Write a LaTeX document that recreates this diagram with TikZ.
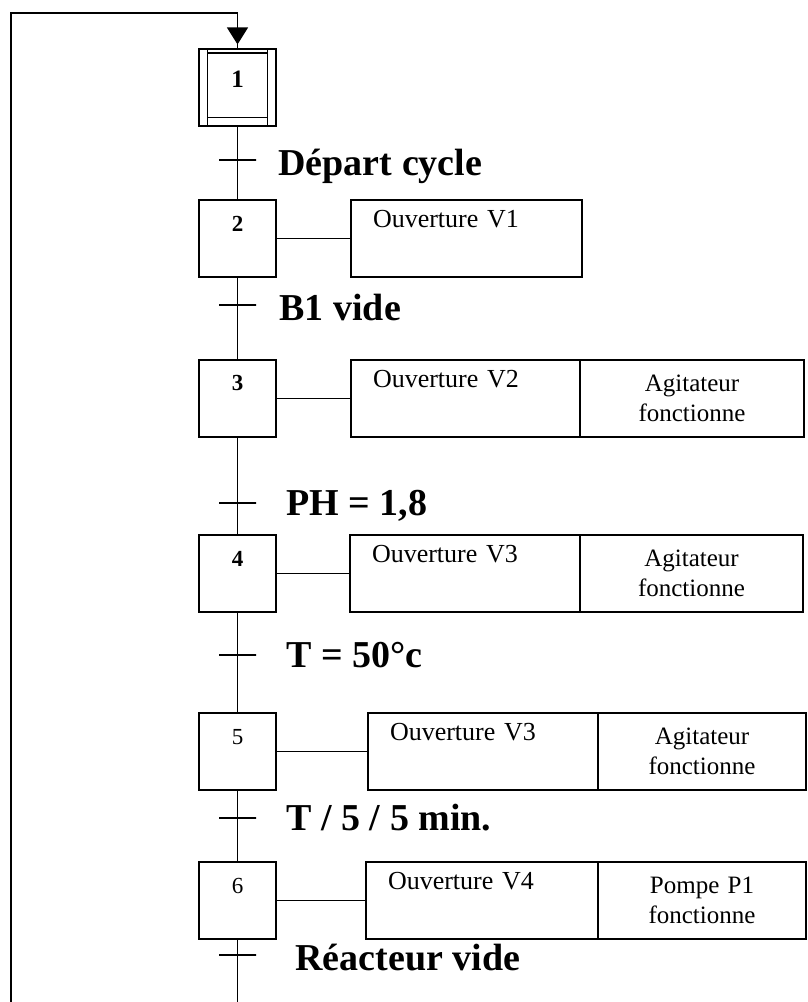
\documentclass[tikz,border=0pt]{standalone}
\usepackage{fontspec}
\setmainfont{Liberation Serif}
\usetikzlibrary{arrows.meta}
\begin{document}
\begin{tikzpicture}[x=1pt,y=-1pt,line width=1.1pt,
  stepbox/.style={draw, minimum width=77pt, minimum height=77pt, inner sep=0pt},
  num/.style={inner sep=0pt, font=\bfseries\fontsize{23}{23}\selectfont},
  numr/.style={inner sep=0pt, font=\fontsize{23}{23}\selectfont},
  actl/.style={draw, minimum width=#1, minimum height=77pt, inner xsep=22pt, inner ysep=0pt,
     text width=#1-44pt, align=left, font=\fontsize{26}{30}\selectfont},
  actr/.style={draw, minimum width=#1, minimum height=77pt, inner xsep=4pt, inner ysep=0pt,
     text width=#1-8pt, align=center, font=\fontsize{25}{30}\selectfont},
  tick/.style={draw, line width=1.2pt, minimum width=37pt, minimum height=0pt, inner sep=0pt},
  trlab/.style={inner sep=0pt, anchor=base west, font=\bfseries\fontsize{38}{38}\selectfont}]
\useasboundingbox (0,0) rectangle (807,1002);

% initial step
\node[stepbox] (s1) at (237.5,87.5) {};
\draw ([xshift=9pt]s1.north west) -- ([xshift=9pt]s1.south west);
\draw ([xshift=-9pt]s1.north east) -- ([xshift=-9pt]s1.south east);
\draw[line width=2pt] ([xshift=9pt,yshift=-5pt]s1.north west) -- ([xshift=-9pt,yshift=-5pt]s1.north east);
\draw ([xshift=9pt,yshift=9pt]s1.south west) -- ([xshift=-9pt,yshift=9pt]s1.south east);
\node[num, font=\bfseries\fontsize{25}{25}\selectfont] (n1) at (237.5,79) {1};

% steps
\node[stepbox] (s2) at (237.5,238.5) {};
\node[num] (n2) at (237.5,224) {2};
\node[stepbox] (s3) at (237.5,398.5) {};
\node[num] (n3) at (237.5,383) {3};
\node[stepbox] (s4) at (237.5,573.5) {};
\node[num] (n4) at (237.5,559) {4};
\node[stepbox] (s5) at (237.5,751.5) {};
\node[numr] (n5) at (237.5,737) {5};
\node[stepbox] (s6) at (237.5,900.5) {};
\node[numr] (n6) at (237.5,886) {6};

% transitions
\node[tick] (t1) at (237.5,160) {};
\node[tick] (t2) at (237.5,305) {};
\node[tick] (t3) at (237.5,503) {};
\node[tick] (t4) at (237.5,655) {};
\node[tick] (t5) at (237.5,818) {};
\node[tick] (t6) at (237.5,955) {};

\node[trlab] (l1) at (278,175) {Départ cycle};
\node[trlab] (l2) at (279,320) {B1 vide};
\node[trlab] (l3) at (286,515) {PH = 1,8};
\node[trlab] (l4) at (286,667) {T = 50°c};
\node[trlab] (l5) at (286,830) {T / 5 / 5 min.};
\node[trlab] (l6) at (295,970) {Réacteur vide};

% actions
\node[actl=231pt] (a2) at (466.5,238.5) {Ouverture V1\\\strut};
\node[actl=229pt] (a3l) at (465.5,398.5) {Ouverture V2\\\strut};
\node[actr=224pt] (a3r) at (692,398.5) {Agitateur\\fonctionne};
\node[actl=230pt] (a4l) at (465,573.5) {Ouverture V3\\\strut};
\node[actr=223pt] (a4r) at (691.5,573.5) {Agitateur\\fonctionne};
\node[actl=230pt] (a5l) at (483,751.5) {Ouverture V3\\\strut};
\node[actr=208pt] (a5r) at (702,751.5) {Agitateur\\fonctionne};
\node[actl=232pt] (a6l) at (482,900.5) {Ouverture V4\\\strut};
\node[actr=208pt] (a6r) at (702,900.5) {Pompe P1\\fonctionne};

\draw (s2.east) -- (a2.west);
\draw (s3.east) -- (a3l.west);
\draw (s4.east) -- (a4l.west);
\draw (s5.east) -- (a5l.west);
\draw (s6.east) -- (a6l.west);

% links
\draw (s1.south) -- (t1.center) -- (s2.north);
\draw (s2.south) -- (t2.center) -- (s3.north);
\draw (s3.south) -- (t3.center) -- (s4.north);
\draw (s4.south) -- (t4.center) -- (s5.north);
\draw (s5.south) -- (t5.center) -- (s6.north);

% return loop
\coordinate (bc) at (237.5,1002);
\coordinate (bl) at (11,1002);
\coordinate (tl) at (11,13);
\coordinate (tc) at (237.5,13);
\draw (s6.south) -- (t6.center) -- (bc);
\draw (bl) -- (tl) -- (tc) -- (s1.north);
\draw[-{Triangle[width=21pt,length=17pt]}] (tc) -- ([yshift=4pt]s1.north);
\end{tikzpicture}
\end{document}
